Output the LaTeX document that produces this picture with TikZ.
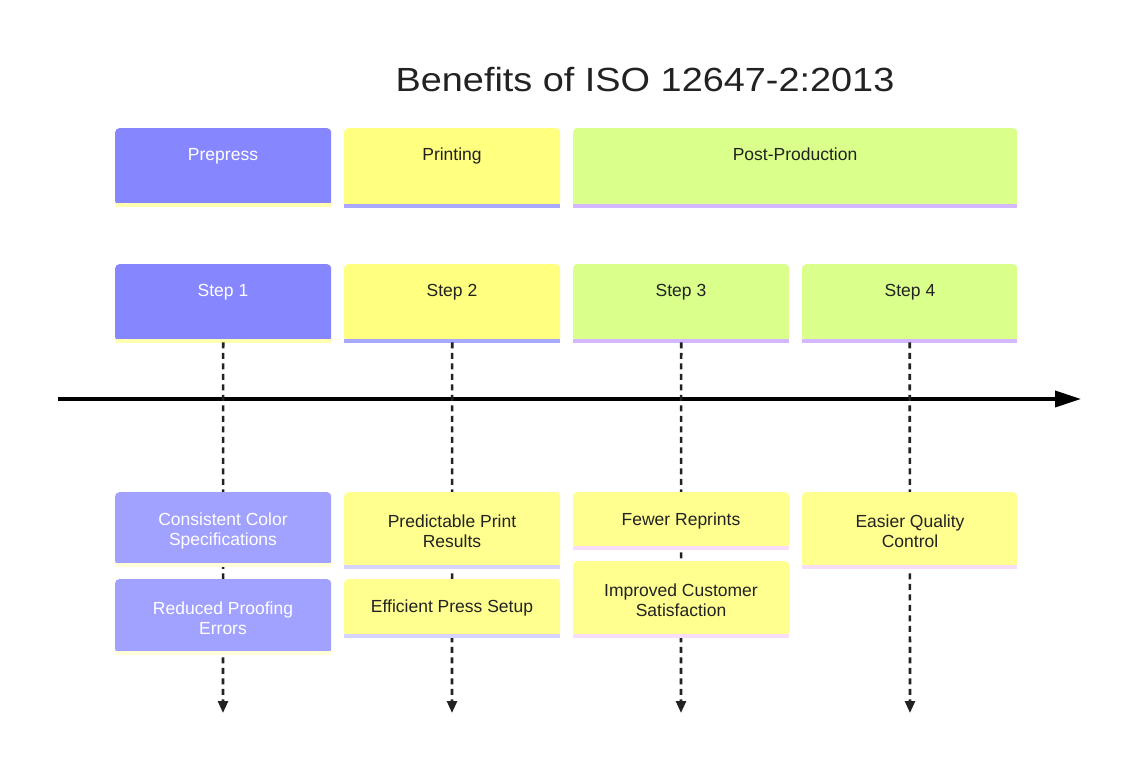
\documentclass[tikz,border=0pt]{standalone}
\usepackage{fontspec}
\setmainfont{Liberation Sans}
\newfontfamily\titlefont[FakeStretch=1.13]{Liberation Sans}
\usetikzlibrary{arrows.meta}
\definecolor{cPre}{HTML}{8686FF}
\definecolor{cPreB}{HTML}{A1A1FF}
\definecolor{cYel}{HTML}{FFFF80}
\definecolor{cYelB}{HTML}{FFFF90}
\definecolor{cGrn}{HTML}{DAFF8A}
\definecolor{sYel}{HTML}{FFFFB0}
\definecolor{sYelL}{HTML}{FFFFD8}
\definecolor{sBlu}{HTML}{A8A8FF}
\definecolor{sBluL}{HTML}{D4D4FF}
\definecolor{sLav}{HTML}{D4B8FF}
\definecolor{sPnk}{HTML}{F8DDF8}
\definecolor{ink}{HTML}{222222}
\tikzset{
  box/.style={rectangle, rounded corners=4pt, inner sep=0pt, anchor=north west},
  txt/.style={font=\fontsize{17.5}{20}\selectfont, text=ink, align=center, inner sep=0pt},
  wtxt/.style={txt, text=white},
  one/.style={text height=12.5pt, text depth=3.5pt},
  dashline/.style={dashed, dash pattern=on 6pt off 4.5pt, line width=2.6pt, color=ink, -{Triangle[length=12pt,width=10pt]}},
  axisline/.style={line width=3.5pt, color=black, -{Triangle[length=26pt,width=16pt]}},
}
\newcommand{\strip}[2]{\fill[#2] ([yshift=2pt]#1.south west) rectangle ([yshift=-2pt]#1.south east);}
\begin{document}
\begin{tikzpicture}[x=1pt,y=-1pt]
\useasboundingbox (0,0) rectangle (1133,768);
% title
\node[txt, font=\titlefont\fontsize{33.5}{38}\selectfont, text=ink] (title) at (645,80) {Benefits of ISO 12647-2:2013};
% phases
\node[box, fill=cPre, minimum width=216pt, minimum height=77pt] (pre) at (115,128) {};
\strip{pre}{sYel}
\node[wtxt, one] (preT) at (223,156) {Prepress};
\node[box, fill=cYel, minimum width=216pt, minimum height=78pt] (prt) at (344,128) {};
\strip{prt}{sBlu}
\node[txt, one] (prtT) at (452,156) {Printing};
\node[box, fill=cGrn, minimum width=444pt, minimum height=78pt] (post) at (573,128) {};
\strip{post}{sLav}
\node[txt, one] (postT) at (795,156) {Post-Production};
% steps
\node[box, fill=cPre, minimum width=216pt, minimum height=77pt] (s1) at (115,264) {};
\strip{s1}{sYel}
\node[wtxt, one] (s1T) at (223,292) {Step 1};
\node[box, fill=cYel, minimum width=216pt, minimum height=77pt] (s2) at (344,264) {};
\strip{s2}{sBlu}
\node[txt, one] (s2T) at (452,292) {Step 2};
\node[box, fill=cGrn, minimum width=216pt, minimum height=77pt] (s3) at (573,264) {};
\strip{s3}{sLav}
\node[txt, one] (s3T) at (681,292) {Step 3};
\node[box, fill=cGrn, minimum width=215pt, minimum height=77pt] (s4) at (802,264) {};
\strip{s4}{sLav}
\node[txt, one] (s4T) at (910,292) {Step 4};
% axis
\coordinate (axL) at (58,399);
\coordinate (axR) at (1081,399);
\draw[axisline] (axL) -- (axR);
% dashed connectors
\coordinate (e1) at (223,713);
\coordinate (e2) at (452,713);
\coordinate (e3) at (681,713);
\coordinate (e4) at (910,713);
\draw[dashline] ([yshift=-1pt]s1.south) -- (e1);
\draw[dashline] ([yshift=-1pt]s2.south) -- (e2);
\draw[dashline] ([yshift=-1pt]s3.south) -- (e3);
\draw[dashline] ([yshift=-1pt]s4.south) -- (e4);
% benefits
\node[box, fill=cPreB, minimum width=216pt, minimum height=73pt] (b1) at (115,492) {};
\strip{b1}{sYelL}
\node[wtxt] (b1T) at (223,531) {Consistent Color\\Specifications};
\node[box, fill=cPreB, minimum width=216pt, minimum height=74pt] (b2) at (115,579) {};
\strip{b2}{sYelL}
\node[wtxt] (b2T) at (223,618) {Reduced Proofing\\Errors};
\node[box, fill=cYelB, minimum width=216pt, minimum height=75pt] (b3) at (344,492) {};
\strip{b3}{sBluL}
\node[txt] (b3T) at (452,531) {Predictable Print\\Results};
\node[box, fill=cYelB, minimum width=216pt, minimum height=57pt] (b4) at (344,579) {};
\strip{b4}{sBluL}
\node[txt, one] (b4T) at (452,608) {Efficient Press Setup};
\node[box, fill=cYelB, minimum width=216pt, minimum height=56pt] (b5) at (573,492) {};
\strip{b5}{sPnk}
\node[txt, one] (b5T) at (681,521) {Fewer Reprints};
\node[box, fill=cYelB, minimum width=216pt, minimum height=75pt] (b6) at (573,561) {};
\strip{b6}{sPnk}
\node[txt] (b6T) at (681,600) {Improved Customer\\Satisfaction};
\node[box, fill=cYelB, minimum width=215pt, minimum height=75pt] (b7) at (802,492) {};
\strip{b7}{sPnk}
\node[txt] (b7T) at (910,531) {Easier Quality\\Control};
\end{tikzpicture}
\end{document}
